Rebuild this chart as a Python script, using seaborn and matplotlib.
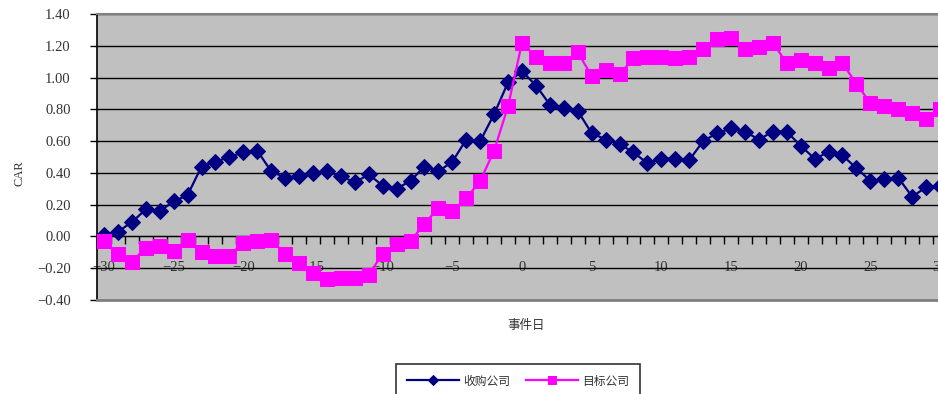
import numpy as np
import pandas as pd
import matplotlib
matplotlib.use("Agg")
import matplotlib.pyplot as plt
import seaborn as sns
from matplotlib.ticker import MultipleLocator, FuncFormatter

# event days -30 .. 30
days = list(range(-30, 31))

# CAR of acquiring firms (收购公司)
acquirer = [0.01, 0.03, 0.09, 0.17, 0.16, 0.22, 0.26, 0.44, 0.47, 0.50,
            0.53, 0.54, 0.41, 0.37, 0.38, 0.40, 0.41, 0.38, 0.34, 0.39,
            0.32, 0.30, 0.35, 0.44, 0.41, 0.47, 0.61, 0.60, 0.77, 0.97,
            1.04, 0.95, 0.83, 0.81, 0.79, 0.65, 0.61, 0.58, 0.53, 0.46,
            0.49, 0.49, 0.48, 0.60, 0.65, 0.68, 0.66, 0.61, 0.66, 0.66,
            0.57, 0.49, 0.53, 0.51, 0.43, 0.35, 0.36, 0.37, 0.25, 0.31,
            0.32]

# CAR of target firms (目标公司)
target = [-0.03, -0.11, -0.16, -0.07, -0.06, -0.09, -0.02, -0.10, -0.12, -0.12,
          -0.04, -0.03, -0.02, -0.11, -0.17, -0.23, -0.27, -0.26, -0.26, -0.24,
          -0.11, -0.05, -0.03, 0.08, 0.18, 0.16, 0.24, 0.35, 0.54, 0.82,
          1.22, 1.13, 1.09, 1.09, 1.16, 1.01, 1.05, 1.02, 1.12, 1.13,
          1.13, 1.12, 1.13, 1.18, 1.24, 1.25, 1.18, 1.19, 1.22, 1.09,
          1.11, 1.09, 1.06, 1.09, 0.96, 0.84, 0.82, 0.80, 0.78, 0.74,
          0.80]

df = pd.DataFrame({"day": days, "acq": acquirer, "tgt": target})

cjk = ["Noto Sans CJK SC", "DejaVu Sans"]
num_font = "Liberation Serif"

fig = plt.figure(figsize=(9.38, 3.94), dpi=100)
W, H = 938, 394
left, right, top, bottom = 97, 947, 14, 300
ax = fig.add_axes([left / W, 1 - bottom / H, (right - left) / W, (bottom - top) / H])
ax.set_facecolor("#C0C0C0")

sns.lineplot(data=df, x="day", y="acq", ax=ax, color="#000080", lw=1.6,
             marker="D", markersize=8, markeredgecolor="#000080",
             label="收购公司", legend=False, zorder=4)
sns.lineplot(data=df, x="day", y="tgt", ax=ax, color="#FF00FF", lw=1.6,
             marker="s", markersize=10.5, markeredgecolor="#FF00FF",
             label="目标公司", legend=False, zorder=5)

ax.set_xlim(-30.5, 30.5)
ax.set_ylim(-0.4, 1.4)

# y axis
ax.yaxis.set_major_locator(MultipleLocator(0.2))
ax.yaxis.set_major_formatter(FuncFormatter(lambda v, p: f"{v:.2f}".replace("-", "\u2212")))
ax.yaxis.grid(True, color="black", lw=1)
ax.set_axisbelow(True)
ax.tick_params(axis="y", direction="out", length=5, width=1, color="black",
               labelsize=10.5, labelcolor="#333333", pad=14)
for lab in ax.get_yticklabels():
    lab.set_fontfamily(num_font)

# x axis crossing at zero
ax.spines["bottom"].set_position(("data", 0))
ax.spines["bottom"].set_color("black")
ax.spines["left"].set_color("black")
ax.spines["left"].set_linewidth(1.2)
ax.spines["top"].set_color("#808080")
ax.spines["top"].set_linewidth(1.5)
ax.spines["right"].set_visible(False)
ax.axhline(-0.4, color="#808080", lw=2, clip_on=False, zorder=6)

ax.xaxis.set_major_locator(MultipleLocator(5))
ax.xaxis.set_major_formatter(FuncFormatter(lambda v, p: f"{int(round(v))}".replace("-", "\u2212")))
ax.xaxis.set_minor_locator(MultipleLocator(1, offset=0.5))
ax.tick_params(axis="x", which="major", length=0, labelsize=10.5,
               labelcolor="#333333", pad=18)
ax.tick_params(axis="x", which="minor", direction="out", length=6, width=1, color="black")
for lab in ax.get_xticklabels():
    lab.set_fontfamily(num_font)

ax.set_xlabel("")
ax.set_ylabel("")
fig.text(19 / W, 1 - 173 / H, "CAR", rotation=90, ha="center", va="center",
         fontsize=9, family=num_font, color="#333333")
fig.text(526 / W, 1 - 325 / H, "事件日", ha="center", va="center",
         fontsize=9, family=cjk, color="#333333")

handles, labels = ax.get_legend_handles_labels()
leg = fig.legend(handles, labels, loc="upper left",
                 bbox_to_anchor=(396 / W, 1 - 364 / H), ncol=2,
                 frameon=True, fancybox=False, edgecolor="black",
                 borderaxespad=0, borderpad=0.9, handlelength=4.4,
                 handletextpad=0.4, columnspacing=1.3, markerscale=0.6,
                 prop={"family": cjk, "size": 8.5})
leg.get_frame().set_linewidth(1.2)
for t in leg.get_texts():
    t.set_color("#333333")

fig.savefig("out.png", dpi=100)
